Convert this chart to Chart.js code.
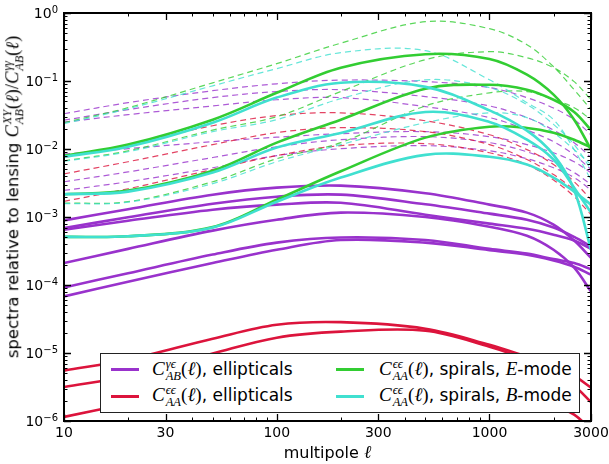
<!DOCTYPE html>
<html>
<head>
<meta charset="utf-8">
<script src="https://cdn.jsdelivr.net/npm/chart.js@4"></script>
<style>
  html, body { margin: 0; padding: 0; background: #fff; }
  #wrap { position: relative; width: 609px; height: 464px; font-family: "DejaVu Sans", sans-serif; color: #000; }
  #chart { position: absolute; left: 0; top: 0; }
  .m { font-family: "Liberation Serif", "DejaVu Serif", serif; font-style: italic; font-size: 1.12em; }
  .up { font-style: normal; }
  .ss { display: inline-flex; flex-direction: column; font-size: 0.66em; line-height: 0.95; vertical-align: 0.55em; margin-left: 1px; }
  #ytitle { position: absolute; left: 14px; top: 197px; transform: translate(-50%, -50%) rotate(-90deg); white-space: nowrap; font-size: 16.5px; line-height: 20px; }
  #xtitle { position: absolute; left: 64px; width: 527px; top: 444px; text-align: center; font-size: 16px; line-height: 16px; }
  #legend { position: absolute; left: 100px; top: 353px; width: 478px; height: 58px; background: #fff; border: 1px solid #222; font-size: 17px; }
  .sw { position: absolute; height: 3px; width: 28px; }
  .lt { position: absolute; white-space: nowrap; line-height: 20px; }
</style>
</head>
<body>
<div id="wrap">
  <canvas id="chart" width="609" height="464"></canvas>

  <div id="ytitle">spectra relative to lensing <span class="m">C<span class="ss"><span>XY</span><span>AB</span></span><span class="up">(</span>ℓ<span class="up">)/</span>C<span class="ss"><span>γγ</span><span>AB</span></span><span class="up">(</span>ℓ<span class="up">)</span></span></div>
  <div id="xtitle">multipole <span class="m">ℓ</span></div>

  <div id="legend">
    <span class="sw" style="left:10px; top:14px; background:#9932cc"></span>
    <span class="lt" style="left:51px; top:5px"><span class="m">C<span class="ss"><span>γϵ</span><span>AB</span></span><span class="up">(</span>ℓ<span class="up">)</span></span>, ellipticals</span>
    <span class="sw" style="left:10px; top:41px; background:#dc143c"></span>
    <span class="lt" style="left:51px; top:31px"><span class="m">C<span class="ss"><span>ϵϵ</span><span>AA</span></span><span class="up">(</span>ℓ<span class="up">)</span></span>, ellipticals</span>
    <span class="sw" style="left:235px; top:14px; background:#32cd32"></span>
    <span class="lt" style="left:278px; top:5px"><span class="m">C<span class="ss"><span>ϵϵ</span><span>AA</span></span><span class="up">(</span>ℓ<span class="up">)</span></span>, spirals, <span class="m">E</span>-mode</span>
    <span class="sw" style="left:235px; top:41px; background:#40e0d0"></span>
    <span class="lt" style="left:278px; top:31px"><span class="m">C<span class="ss"><span>ϵϵ</span><span>AA</span></span><span class="up">(</span>ℓ<span class="up">)</span></span>, spirals, <span class="m">B</span>-mode</span>
  </div>
</div>

<script>
// ==========================
// DATA
// ==========================

const ells = [10, 20, 50, 100, 200, 500, 1000, 1500, 2000, 2500, 3000];

// C^{gamma eps}_{AB}, ellipticals (solid)
const gammaEll1 = [8.9e-4, 1.3e-3, 2.13e-3, 2.7e-3, 2.89e-3, 2.24e-3, 1.52e-3, 1.16e-3, 7.7e-4, 4.5e-4, 2.5e-4];
const gammaEll2 = [6.9e-4, 9.9e-4, 1.57e-3, 1.99e-3, 2.13e-3, 1.54e-3, 1.12e-3, 9.1e-4, 7.0e-4, 5.1e-4, 3.7e-4];
const gammaEll3 = [6.5e-4, 8.8e-4, 1.28e-3, 1.52e-3, 1.62e-3, 1.08e-3, 8.0e-4, 6.7e-4, 5.5e-4, 4.5e-4, 3.4e-4];
const gammaEll4 = [2.1e-4, 3.4e-4, 6.3e-4, 9.1e-4, 1.16e-3, 1.0e-3, 7.2e-4, 5.3e-4, 3.3e-4, 1.8e-4, 8.0e-5];
const gammaEll5 = [9.2e-5, 1.49e-4, 2.8e-4, 4.2e-4, 5.0e-4, 4.6e-4, 3.4e-4, 2.9e-4, 2.4e-4, 2.1e-4, 1.7e-4];
const gammaEll6 = [6.8e-5, 1.12e-4, 2.1e-4, 3.3e-4, 4.6e-4, 4.2e-4, 3.25e-4, 2.8e-4, 2.3e-4, 1.86e-4, 1.42e-4];

// C^{eps eps}_{AA}, ellipticals (solid)
const epsEll1 = [5.5e-6, 8.0e-6, 1.62e-5, 2.6e-5, 2.84e-5, 2.28e-5, 1.32e-5, 8.8e-6, 6.5e-6, 4.6e-6, 3.1e-6];
const epsEll2 = [3.16e-6, 4.6e-6, 9.8e-6, 1.68e-5, 2.06e-5, 2.13e-5, 1.24e-5, 8.0e-6, 5.3e-6, 3.3e-6, 1.9e-6];
const epsEll3 = [1.15e-6, 1.8e-6, 3.4e-6, 5.3e-6, 6.1e-6, 4.8e-6, 2.9e-6, 2.1e-6, 1.74e-6, 1.24e-6, 7.5e-7];

// spirals, E-mode (solid)
const spiralE1 = [8.0e-3, 1.16e-2, 2.7e-2, 6.7e-2, 0.157, 0.248, 0.211, 0.124, 0.063, 0.027, 9.8e-3];
const spiralE2 = [2.16e-3, 2.44e-3, 4.8e-3, 1.24e-2, 2.7e-2, 7.7e-2, 8.8e-2, 7.45e-2, 5.3e-2, 3.5e-2, 1.9e-2];
const spiralE3 = [5.1e-4, 5.2e-4, 7.1e-4, 1.8e-3, 4.7e-3, 1.47e-2, 2.13e-2, 2.04e-2, 1.74e-2, 1.37e-2, 1.05e-2];

// spirals, B-mode (solid)
const spiralB1 = [7.7e-3, 1.08e-2, 2.44e-2, 5.7e-2, 9.4e-2, 8.2e-2, 3.7e-2, 1.86e-2, 8.2e-3, 2.5e-3, 3.3e-4];
const spiralB2 = [2.16e-3, 2.36e-3, 4.5e-3, 1.05e-2, 1.72e-2, 3.5e-2, 2.5e-2, 1.37e-2, 7.0e-3, 2.7e-3, 1.16e-3];
const spiralB3 = [5.1e-4, 5.2e-4, 7.0e-4, 1.68e-3, 3.8e-3, 8.2e-3, 7.7e-3, 5.9e-3, 3.8e-3, 2.36e-3, 1.52e-3];

// dashed counterparts
const gammaEllAlt1 = [3.3e-2, 4.8e-2, 7.2e-2, 9.1e-2, 0.103, 9.8e-2, 8.0e-2, 5.7e-2, 4.0e-2, 2.7e-2, 1.62e-2];
const gammaEllAlt2 = [2.65e-2, 3.8e-2, 5.7e-2, 7.0e-2, 7.45e-2, 5.9e-2, 4.3e-2, 2.9e-2, 1.9e-2, 1.24e-2, 7.5e-3];
const gammaEllAlt3 = [2.48e-2, 3.2e-2, 4.3e-2, 5.3e-2, 5.7e-2, 4.2e-2, 2.9e-2, 1.9e-2, 1.28e-2, 8.2e-3, 5.0e-3];
const gammaEllAlt4 = [8.4e-3, 1.01e-2, 1.28e-2, 1.49e-2, 1.68e-2, 1.8e-2, 1.52e-2, 1.16e-2, 8.8e-3, 6.5e-3, 4.5e-3];
const gammaEllAlt5 = [3.3e-3, 4.6e-3, 7.5e-3, 1.08e-2, 1.37e-2, 1.52e-2, 1.24e-2, 9.1e-3, 6.5e-3, 4.5e-3, 3.0e-3];
const gammaEllAlt6 = [2.46e-3, 3.3e-3, 5.3e-3, 8.0e-3, 1.01e-2, 1.12e-2, 9.4e-3, 7.2e-3, 5.3e-3, 3.8e-3, 2.5e-3];

const epsEllAlt1 = [7.5e-3, 1.16e-2, 2.2e-2, 3.1e-2, 3.4e-2, 2.6e-2, 1.62e-2, 9.8e-3, 5.9e-3, 3.3e-3, 1.8e-3];
const epsEllAlt2 = [4.3e-3, 6.5e-3, 1.16e-2, 1.74e-2, 2.06e-2, 1.8e-2, 1.16e-2, 7.0e-3, 4.2e-3, 2.5e-3, 1.42e-3];
const epsEllAlt3 = [1.7e-3, 2.6e-3, 5.0e-3, 8.0e-3, 1.12e-2, 1.2e-2, 8.8e-3, 5.9e-3, 3.5e-3, 2.0e-3, 1.08e-3];

const spiralEAlt1 = [2.44e-2, 4.05e-2, 9.4e-2, 0.18, 0.36, 0.745, 0.588, 0.342, 0.162, 7.45e-2, 3.8e-2];
const spiralEAlt2 = [6.7e-3, 9.4e-3, 1.9e-2, 2.99e-2, 7.0e-2, 0.206, 0.27, 0.22, 0.157, 9.8e-2, 5.3e-2];
const spiralEAlt3 = [1.6e-3, 1.68e-3, 3.3e-3, 7.2e-3, 1.24e-2, 4.3e-2, 6.7e-2, 7.0e-2, 5.3e-2, 4.05e-2, 2.7e-2];

const spiralBAlt1 = [2.36e-2, 3.9e-2, 8.5e-2, 0.152, 0.261, 0.279, 0.104, 4.8e-2, 2.7e-2, 9.8e-3, 3.5e-3];
const spiralBAlt2 = [6.6e-3, 9.1e-3, 1.8e-2, 2.7e-2, 5.5e-2, 0.104, 8.0e-2, 4.5e-2, 2.3e-2, 1.16e-2, 5.0e-3];
const spiralBAlt3 = [1.57e-3, 1.65e-3, 3.1e-3, 6.5e-3, 1.16e-2, 2.44e-2, 3.4e-2, 2.9e-2, 1.74e-2, 9.8e-3, 5.9e-3];

// tick labels
const xTickLabels = [10, 30, 100, 300, 1000, 3000];
const yTickExponents = [0, -1, -2, -3, -4, -5, -6];

// ==========================
// SERIES
// ==========================

const PURPLE = "#9932cc", RED = "#dc143c", GREEN = "#32cd32", CYAN = "#40e0d0";
const PURPLE_D = "rgba(153,50,204,0.8)", RED_D = "rgba(220,20,60,0.8)";
const GREEN_D = "rgba(50,205,50,0.8)", CYAN_D = "rgba(64,224,208,0.8)";

// first in list ends up on top
const series = [
  [spiralB1, CYAN, false], [spiralB2, CYAN, false], [spiralB3, CYAN, false],
  [spiralE1, GREEN, false], [spiralE2, GREEN, false], [spiralE3, GREEN, false],
  [epsEll1, RED, false], [epsEll2, RED, false], [epsEll3, RED, false],
  [gammaEll1, PURPLE, false], [gammaEll2, PURPLE, false], [gammaEll3, PURPLE, false],
  [gammaEll4, PURPLE, false], [gammaEll5, PURPLE, false], [gammaEll6, PURPLE, false],
  [spiralBAlt1, CYAN_D, true], [spiralBAlt2, CYAN_D, true], [spiralBAlt3, CYAN_D, true],
  [spiralEAlt1, GREEN_D, true], [spiralEAlt2, GREEN_D, true], [spiralEAlt3, GREEN_D, true],
  [epsEllAlt1, RED_D, true], [epsEllAlt2, RED_D, true], [epsEllAlt3, RED_D, true],
  [gammaEllAlt1, PURPLE_D, true], [gammaEllAlt2, PURPLE_D, true], [gammaEllAlt3, PURPLE_D, true],
  [gammaEllAlt4, PURPLE_D, true], [gammaEllAlt5, PURPLE_D, true], [gammaEllAlt6, PURPLE_D, true]
];

const datasets = series.map(function(s){
  return {
    data: ells.map(function(l, i){ return { x: l, y: s[0][i] }; }),
    borderColor: s[1],
    borderWidth: s[2] ? 1.2 : 2.6,
    borderDash: s[2] ? [6, 4] : [],
    pointRadius: 0,
    fill: false,
    tension: 0.35
  };
});

// ==========================
// FRAME, TICKS, TICK LABELS
// ==========================

const frameTicks = {
  id: "frameTicks",
  afterDraw(chart){
    const ctx = chart.ctx;
    const a = chart.chartArea;
    const xs = chart.scales.x, ys = chart.scales.y;
    ctx.save();
    ctx.strokeStyle = "#000";
    ctx.fillStyle = "#000";

    function xTick(v, len, w){
      const px = Math.round(xs.getPixelForValue(v)) + 0.5;
      ctx.lineWidth = w;
      ctx.beginPath();
      ctx.moveTo(px, a.bottom); ctx.lineTo(px, a.bottom - len);
      ctx.moveTo(px, a.top); ctx.lineTo(px, a.top + len);
      ctx.stroke();
    }
    function yTick(v, len, w){
      const py = Math.round(ys.getPixelForValue(v)) + 0.5;
      ctx.lineWidth = w;
      ctx.beginPath();
      ctx.moveTo(a.left, py); ctx.lineTo(a.left + len, py);
      ctx.moveTo(a.right, py); ctx.lineTo(a.right - len, py);
      ctx.stroke();
    }

    // x minor ticks
    for(let d = 10; d <= 1000; d *= 10){
      for(let m = 2; m <= 9; m++){
        const v = m * d;
        if(v > 3000) break;
        if(m === 3) continue;
        xTick(v, 3.5, 1);
      }
    }
    xTickLabels.forEach(function(v){ xTick(v, 7, 1.3); });

    // y minor ticks
    for(let e = -6; e < 0; e++){
      for(let m = 2; m <= 9; m++){
        yTick(m * Math.pow(10, e), 3.5, 1);
      }
    }
    yTickExponents.forEach(function(e){ yTick(Math.pow(10, e), 7, 1.3); });

    // frame
    ctx.lineWidth = 2;
    ctx.strokeRect(a.left, a.top, a.right - a.left, a.bottom - a.top);

    // x tick labels
    ctx.font = "14px 'DejaVu Sans'";
    ctx.textAlign = "center";
    ctx.textBaseline = "alphabetic";
    xTickLabels.forEach(function(v){
      ctx.fillText(String(v), xs.getPixelForValue(v), 437);
    });

    // y tick labels: 10 with superscript exponent
    yTickExponents.forEach(function(e){
      const py = ys.getPixelForValue(Math.pow(10, e));
      const ex = e < 0 ? "\u2212" + (-e) : String(e);
      ctx.textAlign = "right";
      ctx.font = "10px 'DejaVu Sans'";
      const w = ctx.measureText(ex).width;
      ctx.fillText(ex, 58, py - 0.5);
      ctx.font = "14px 'DejaVu Sans'";
      ctx.fillText("10", 58 - w, py + 5);
    });

    ctx.restore();
  }
};

// ==========================
// CHART
// ==========================

new Chart(document.getElementById("chart"), {
  type: "line",
  data: { datasets: datasets },
  options: {
    responsive: false,
    animation: false,
    layout: { padding: { left: 64, right: 18, top: 13, bottom: 43 } },
    scales: {
      x: { type: "logarithmic", min: 10, max: 3000, display: false },
      y: { type: "logarithmic", min: 1e-6, max: 1, display: false }
    },
    plugins: {
      legend: { display: false },
      tooltip: { enabled: false }
    }
  },
  plugins: [frameTicks]
});
</script>
</body>
</html>
